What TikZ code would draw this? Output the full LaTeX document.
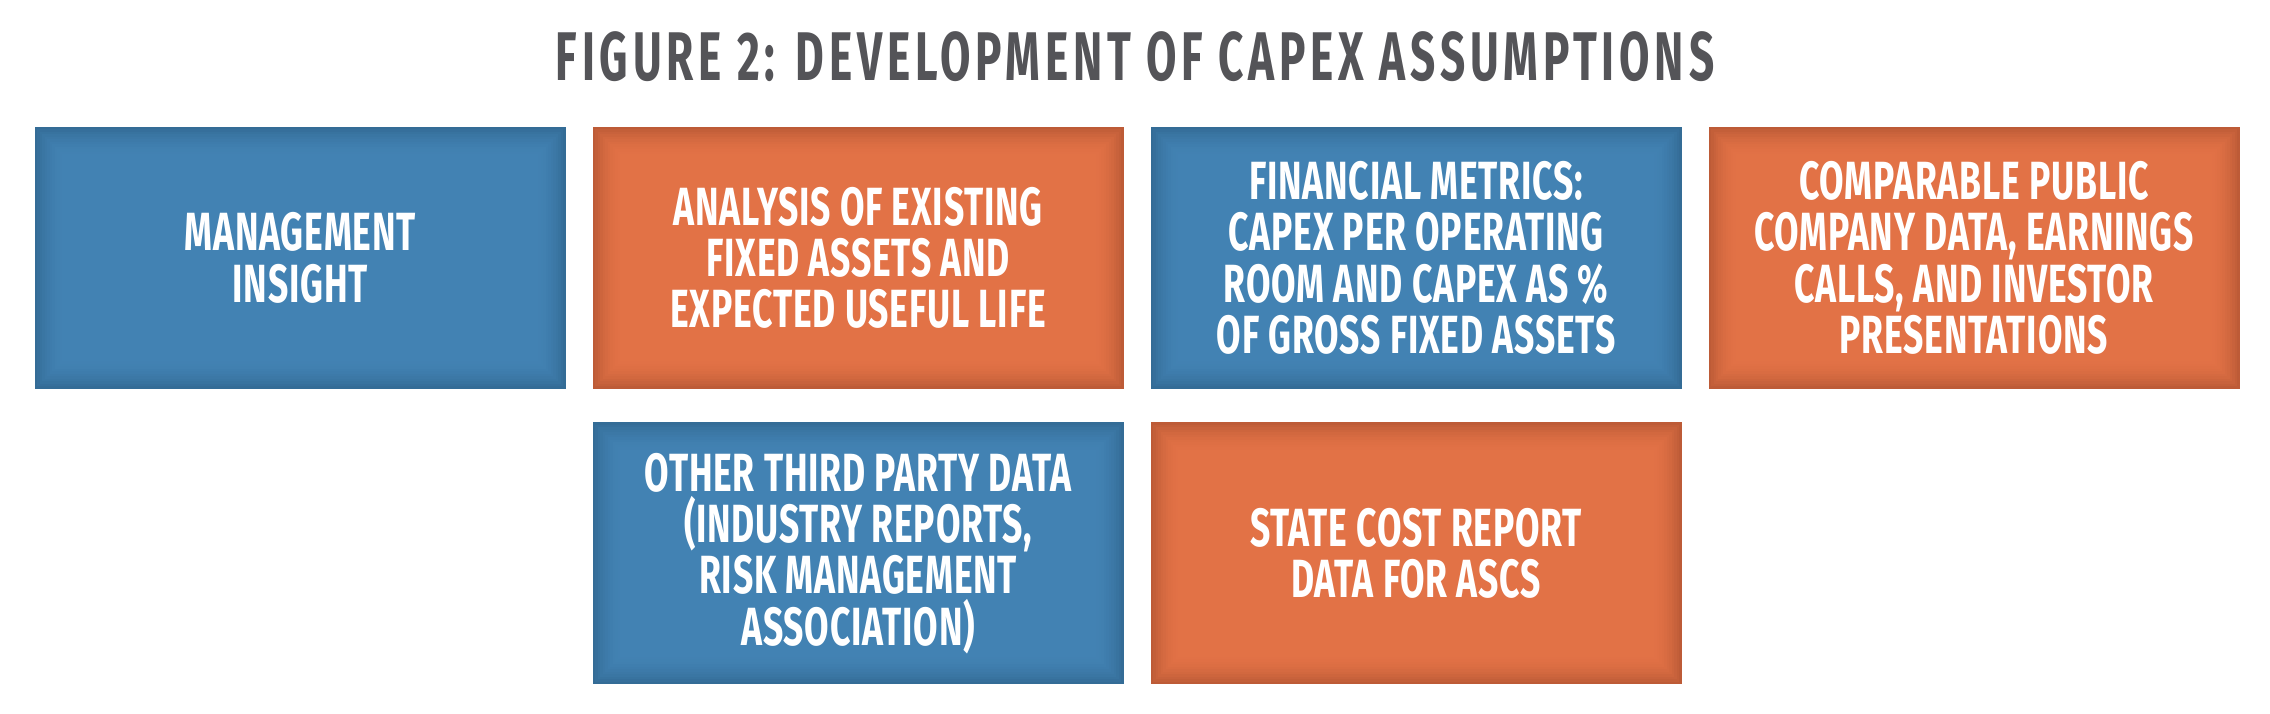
\documentclass[tikz,border=0pt]{standalone}
\usepackage{fontspec}
\usepackage{tikz}
\usetikzlibrary{positioning,calc}
\newfontfamily\boxfont[FakeStretch=0.66,LetterSpace=1.5]{Fira Sans}
\newfontfamily\titlefont[FakeStretch=0.64,LetterSpace=7]{Fira Sans}
\definecolor{bluemid}{HTML}{4282B3}
\definecolor{blueedge}{HTML}{346C96}
\definecolor{orangemid}{HTML}{E27246}
\definecolor{orangeedge}{HTML}{BD5B37}
\definecolor{titlegray}{HTML}{545458}
\tikzset{
    infobox/.style={rectangle,minimum width=5.31cm,minimum height=2.62cm,inner sep=0pt,
        text=white,align=center,fill=#1edge,
        font={\boxfont\bfseries\fontsize{15.3}{14.6}\selectfont},
        path picture={
            \foreach \i [evaluate=\i as \p using {100*(1-(1-\i/12)^2)}] in {1,...,12}
                \fill[#1mid!\p!#1edge]
                    ($(path picture bounding box.south west)+(\i*0.025,\i*0.025)$) rectangle
                    ($(path picture bounding box.north east)-(\i*0.025,\i*0.025)$);
        }},
    bluebox/.style={infobox=blue},
    orangebox/.style={infobox=orange},
    heading/.style={text=titlegray,inner sep=0pt,
        font={\titlefont\bfseries\fontsize{19.6}{21}\selectfont}},
}
\begin{document}
\begin{tikzpicture}
    \useasboundingbox (0,0) rectangle (22.70,7.14);
    \node[heading] (title) at (11.35,6.57) {FIGURE 2: DEVELOPMENT OF CAPEX ASSUMPTIONS};

    \node[bluebox] (insight) at (3.0025,4.56) {MANAGEMENT\\INSIGHT};
    \node[orangebox, right=0.255cm of insight] (assets) {ANALYSIS OF EXISTING\\FIXED ASSETS AND\\EXPECTED USEFUL LIFE};
    \node[bluebox, right=0.255cm of assets] (metrics) {FINANCIAL METRICS:\\CAPEX PER OPERATING\\ROOM AND CAPEX AS \%\\OF GROSS FIXED ASSETS};
    \node[orangebox, right=0.255cm of metrics] (public) {COMPARABLE PUBLIC\\COMPANY DATA, EARNINGS\\CALLS, AND INVESTOR\\PRESENTATIONS};

    \node[bluebox, below=0.32cm of assets] (thirdparty) {OTHER THIRD PARTY DATA\\(INDUSTRY REPORTS,\\RISK MANAGEMENT\\ASSOCIATION)};
    \node[orangebox, below=0.32cm of metrics] (costreport) {STATE COST REPORT\\DATA FOR ASCS};
\end{tikzpicture}
\end{document}
